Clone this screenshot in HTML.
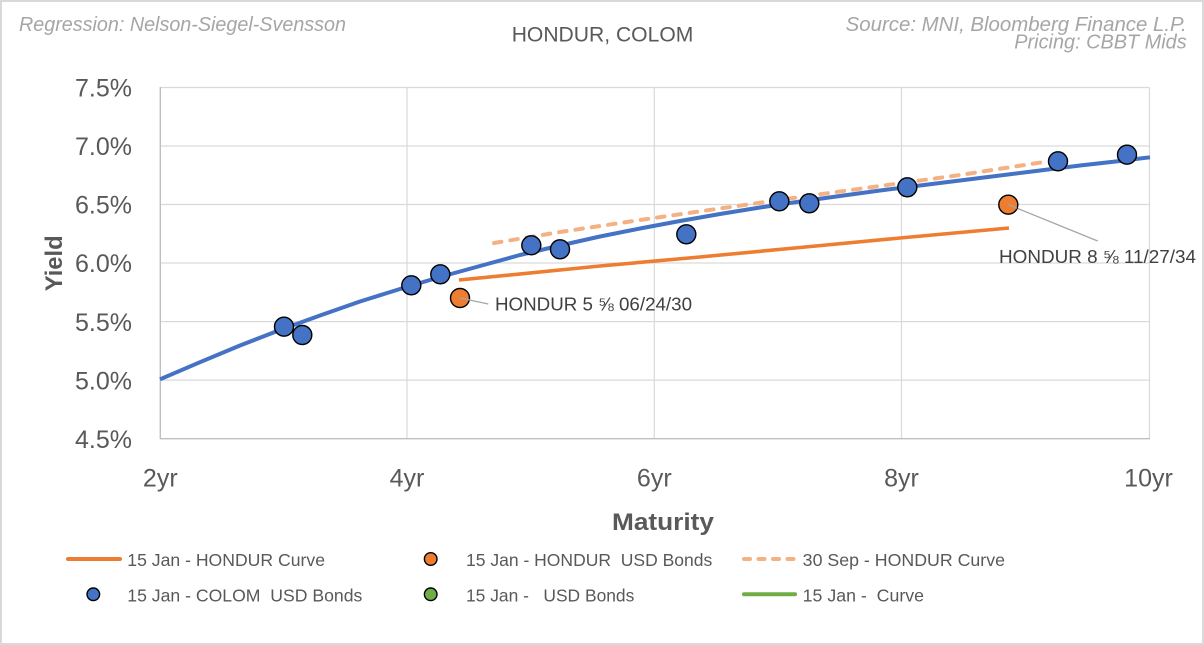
<!DOCTYPE html>
<html>
<head>
<meta charset="utf-8">
<style>
  html, body { margin:0; padding:0; background:#fff; }
  svg { display:block; }
  text { font-family: "Liberation Sans", "DejaVu Sans", sans-serif; }
</style>
</head>
<body>
<svg width="1204" height="645" viewBox="0 0 1204 645" xmlns="http://www.w3.org/2000/svg">
  <rect x="0" y="0" width="1204" height="645" fill="#ffffff"/>
  <rect x="1" y="1" width="1202" height="643" fill="none" stroke="#d9d9d9" stroke-width="2"/>

  <!-- Header texts -->
  <text x="19" y="31" font-size="20" font-style="italic" fill="#a6a6a6" textLength="327" lengthAdjust="spacingAndGlyphs">Regression: Nelson-Siegel-Svensson</text>
  <text x="511.7" y="41.7" font-size="21" fill="#595959" textLength="181.6" lengthAdjust="spacingAndGlyphs">HONDUR, COLOM</text>
  <text x="845.7" y="31" font-size="20" font-style="italic" fill="#a6a6a6" textLength="341" lengthAdjust="spacingAndGlyphs">Source: MNI, Bloomberg Finance L.P.</text>
  <text x="1014.3" y="48.3" font-size="20" font-style="italic" fill="#a6a6a6" textLength="172.4" lengthAdjust="spacingAndGlyphs">Pricing: CBBT Mids</text>

  <!-- Gridlines horizontal -->
  <g stroke="#d9d9d9" stroke-width="1.2">
    <line x1="160" y1="87.5" x2="1149.5" y2="87.5"/>
    <line x1="160" y1="146" x2="1149.5" y2="146"/>
    <line x1="160" y1="204.5" x2="1149.5" y2="204.5"/>
    <line x1="160" y1="263" x2="1149.5" y2="263"/>
    <line x1="160" y1="321.6" x2="1149.5" y2="321.6"/>
    <line x1="160" y1="380.1" x2="1149.5" y2="380.1"/>
    <!-- vertical -->
    <line x1="407" y1="87.5" x2="407" y2="438.7"/>
    <line x1="654.3" y1="87.5" x2="654.3" y2="438.7"/>
    <line x1="901.5" y1="87.5" x2="901.5" y2="438.7"/>
    <line x1="1149.5" y1="87.5" x2="1149.5" y2="438.7"/>
  </g>
  <!-- Axes -->
  <g stroke="#bfbfbf" stroke-width="1.4">
    <line x1="160.3" y1="87" x2="160.3" y2="439"/>
    <line x1="160" y1="438.7" x2="1150" y2="438.7"/>
  </g>

  <!-- Y tick labels -->
  <g font-size="25" fill="#595959" text-anchor="end">
    <text x="132" y="96.7">7.5%</text>
    <text x="132" y="155.2">7.0%</text>
    <text x="132" y="213.7">6.5%</text>
    <text x="132" y="272.2">6.0%</text>
    <text x="132" y="330.8">5.5%</text>
    <text x="132" y="389.3">5.0%</text>
    <text x="132" y="447.9">4.5%</text>
  </g>
  <!-- X tick labels -->
  <g font-size="25" fill="#595959" text-anchor="middle">
    <text x="160.3" y="486.7">2yr</text>
    <text x="407" y="486.7">4yr</text>
    <text x="654.3" y="486.7">6yr</text>
    <text x="901.5" y="486.7">8yr</text>
    <text x="1148.5" y="486.7">10yr</text>
  </g>

  <!-- Axis titles -->
  <text x="663" y="530" font-size="24" font-weight="bold" fill="#595959" text-anchor="middle" textLength="102" lengthAdjust="spacingAndGlyphs">Maturity</text>
  <text transform="translate(62,263.3) rotate(-90)" x="0" y="0" font-size="24" font-weight="bold" fill="#595959" text-anchor="middle" textLength="56" lengthAdjust="spacingAndGlyphs">Yield</text>

  <!-- 30 Sep dashed HONDUR curve -->
  <polyline fill="none" stroke="#f4b183" stroke-width="4" stroke-dasharray="7.5 9" stroke-linecap="round"
    points="494,243 560,232 640,220 720,208.5 800,197 880,186 960,175 1047,161.5"/>

  <!-- COLOM curve -->
  <polyline fill="none" stroke="#4472c4" stroke-width="4" stroke-linejoin="round"
    points="160,379.3 200,362.2 240,345.5 280,330 320,315.5 360,301.5 400,289 440,277 480,266 520,255 560,245.5 600,236.5 640,228.5 680,221 720,214 760,207.5 800,201.5 840,196 880,190.5 920,185.5 960,180.5 1000,175.5 1040,170.5 1080,165.5 1120,161 1150,157.3"/>

  <!-- HONDUR curve -->
  <polyline fill="none" stroke="#ed7d31" stroke-width="3.6" stroke-linejoin="round"
    points="459,280 600,266 700,257 800,247.5 900,238 1009,228"/>

  <!-- Leader lines -->
  <line x1="460" y1="298" x2="488.3" y2="304" stroke="#a6a6a6" stroke-width="1.3"/>
  <line x1="1008.3" y1="204.7" x2="1097.7" y2="241" stroke="#a6a6a6" stroke-width="1.3"/>

  <!-- COLOM points -->
  <g fill="#4472c4" stroke="#000" stroke-width="1.4">
    <circle cx="284" cy="326.7" r="9.5"/>
    <circle cx="302.3" cy="335" r="9.5"/>
    <circle cx="411.3" cy="285.3" r="9.5"/>
    <circle cx="440.3" cy="274.3" r="9.5"/>
    <circle cx="531.3" cy="245.3" r="9.5"/>
    <circle cx="560" cy="249.3" r="9.5"/>
    <circle cx="686.3" cy="234.3" r="9.5"/>
    <circle cx="779.3" cy="201.3" r="9.5"/>
    <circle cx="809.3" cy="203.3" r="9.5"/>
    <circle cx="907.3" cy="187.3" r="9.5"/>
    <circle cx="1058" cy="161.3" r="9.5"/>
    <circle cx="1127" cy="154.7" r="9.5"/>
  </g>
  <!-- HONDUR points -->
  <g fill="#ed7d31" stroke="#000" stroke-width="1.4">
    <circle cx="460" cy="298" r="9.5"/>
    <circle cx="1008.3" cy="204.7" r="9.5"/>
  </g>
  <!-- leader start segments drawn over markers -->
  <line x1="460" y1="298" x2="470" y2="300" stroke="#a6a6a6" stroke-width="1.3"/>
  <line x1="1008.3" y1="204.7" x2="1017" y2="208.3" stroke="#a6a6a6" stroke-width="1.3"/>

  <!-- Data labels -->
  <text x="495" y="310.7" font-size="18" fill="#404040" textLength="197" lengthAdjust="spacingAndGlyphs">HONDUR 5 ⅝ 06/24/30</text>
  <text x="999" y="263" font-size="18" fill="#404040" textLength="197" lengthAdjust="spacingAndGlyphs">HONDUR 8 ⅝ 11/27/34</text>

  <!-- Legend -->
  <line x1="68" y1="559" x2="120" y2="559" stroke="#ed7d31" stroke-width="4" stroke-linecap="round"/>
  <text x="127.3" y="566" font-size="17.5" fill="#595959" textLength="197.7" lengthAdjust="spacingAndGlyphs">15 Jan - HONDUR Curve</text>

  <circle cx="93.3" cy="594.3" r="6.3" fill="#4472c4" stroke="#000" stroke-width="1.4"/>
  <text x="127.3" y="601.7" font-size="17.5" fill="#595959" textLength="235" lengthAdjust="spacingAndGlyphs" xml:space="preserve">15 Jan - COLOM  USD Bonds</text>

  <circle cx="430.7" cy="559" r="6.3" fill="#ed7d31" stroke="#000" stroke-width="1.4"/>
  <text x="466" y="566" font-size="17.5" fill="#595959" textLength="246.3" lengthAdjust="spacingAndGlyphs" xml:space="preserve">15 Jan - HONDUR  USD Bonds</text>

  <circle cx="430.7" cy="594.3" r="6.3" fill="#70ad47" stroke="#000" stroke-width="1.4"/>
  <text x="466" y="601.7" font-size="17.5" fill="#595959" textLength="168.3" lengthAdjust="spacingAndGlyphs" xml:space="preserve">15 Jan -   USD Bonds</text>

  <line x1="744" y1="559" x2="795" y2="559" stroke="#f4b183" stroke-width="4" stroke-dasharray="6 8.5" stroke-linecap="round"/>
  <text x="802.7" y="566" font-size="17.5" fill="#595959" textLength="202.3" lengthAdjust="spacingAndGlyphs">30 Sep - HONDUR Curve</text>

  <line x1="744" y1="594.3" x2="795" y2="594.3" stroke="#70ad47" stroke-width="4" stroke-linecap="round"/>
  <text x="802.7" y="601.7" font-size="17.5" fill="#595959" textLength="121.3" lengthAdjust="spacingAndGlyphs" xml:space="preserve">15 Jan -  Curve</text>
</svg>
</body>
</html>
